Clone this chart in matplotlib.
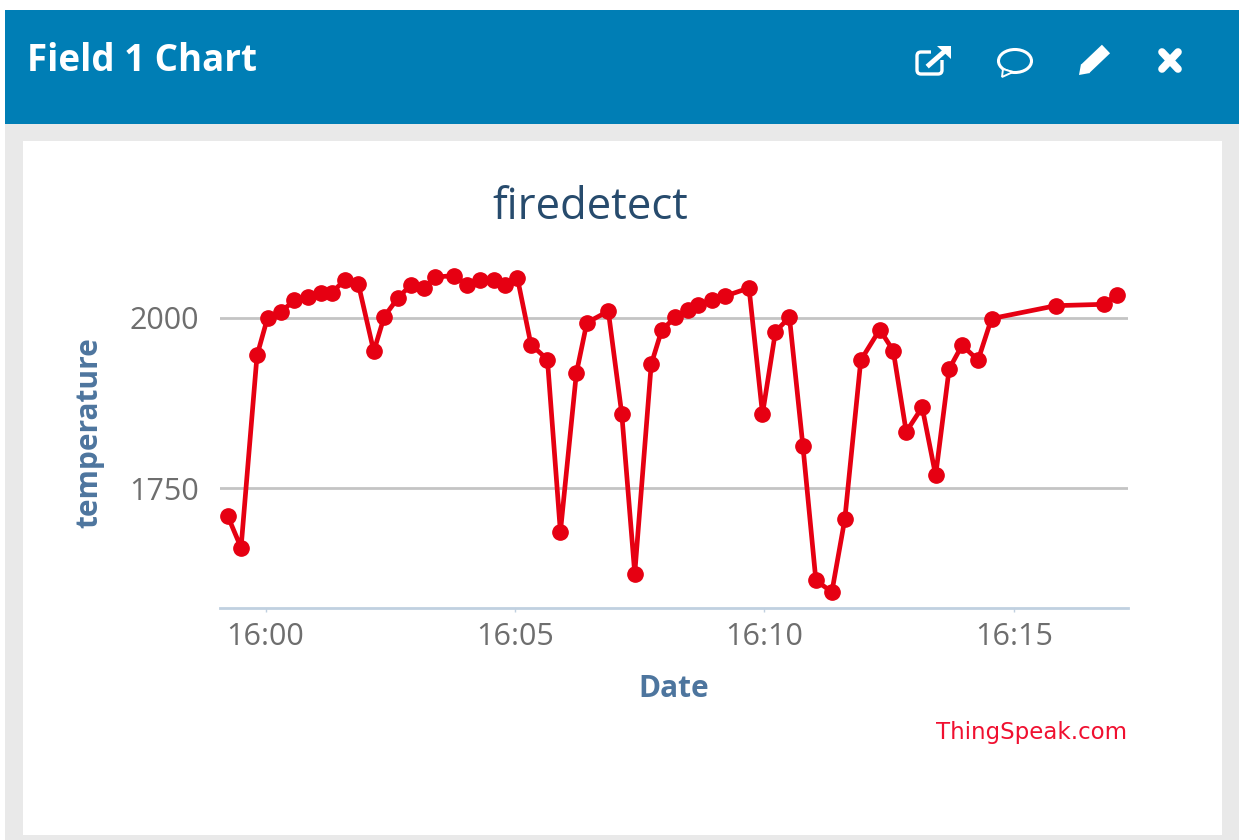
import matplotlib
matplotlib.use("Agg")
import matplotlib.pyplot as plt
from matplotlib.patches import Rectangle, FancyBboxPatch, Ellipse, Polygon
from matplotlib.lines import Line2D

minutes = [-0.76,-0.49,-0.17,0.04,0.31,0.58,0.85,1.11,1.33,1.59,1.86,2.17,2.38,2.65,2.92,3.18,3.40,3.77,
           4.04,4.30,4.57,4.79,5.05,5.32,5.65,5.91,6.23,6.44,6.87,7.14,7.40,7.73,7.94,8.21,8.47,8.67,8.94,
           9.21,9.69,9.96,10.22,10.50,10.77,11.03,11.35,11.61,11.93,12.31,12.58,12.84,13.16,13.43,13.70,
           13.96,14.28,14.55,15.84,16.80,17.06]
temperature = [1710,1663,1945,2000,2009,2026,2030,2037,2037,2056,2050,1951,2002,2029,2049,2044,2060,2062,
               2049,2056,2056,2049,2058,1961,1939,1686,1919,1993,2010,1859,1625,1932,1982,2001,2011,2019,2026,
               2032,2044,1859,1980,2001,1812,1615,1598,1705,1938,1983,1952,1833,1869,1769,1925,1960,1938,
               1999,2018,2020,2034]
xtick_values = [0, 5, 10, 15]
xtick_labels = ["16:00", "16:05", "16:10", "16:15"]
ytick_values = [1750, 2000]
ytick_labels = ["1750", "2000"]

W, H = 1239, 840
TEXT = "Open Sans"
fig = plt.figure(figsize=(W/100, H/100), dpi=100, facecolor="#e9e9e9")

# page frame in pixel coordinates
bg = fig.add_axes([0, 0, 1, 1], zorder=0)
bg.set_xlim(0, W); bg.set_ylim(H, 0); bg.axis("off")
bg.add_patch(Rectangle((0, 0), W, 10, fc="white", ec="none"))
bg.add_patch(Rectangle((0, 0), 5, H, fc="white", ec="none"))
bg.add_patch(Rectangle((5, 10), W-5, 114, fc="#007eb5", ec="none"))
bg.add_patch(Rectangle((23, 141), 1199, 694, fc="white", ec="none"))
bg.text(27, 61, "Field 1 Chart", color="white", fontsize=26.5, fontweight="bold",
        family=TEXT, va="center", ha="left")

# header icons
w = "white"
bg.add_patch(FancyBboxPatch((917, 52), 25, 22, boxstyle="round,pad=0,rounding_size=4", fc="none", ec=w, lw=2.4))
bg.add_patch(Rectangle((931, 46), 22, 14, fc="#007eb5", ec="none"))
bg.add_line(Line2D([929, 946], [65, 50], color=w, lw=3.5))
bg.add_patch(Polygon([[937, 46], [951, 46], [951, 59]], fc=w, ec="none"))
bg.add_patch(Ellipse((1015, 61), 33, 23, fc="none", ec=w, lw=2.2))
bg.add_patch(Polygon([[1003, 69], [1013, 72], [1002, 77]], fc="#007eb5", ec=w, lw=1.4))
bg.add_line(Line2D([1085, 1106], [69, 49], color=w, lw=8.5, solid_capstyle="butt"))
bg.add_patch(Polygon([[1079, 75], [1081, 64], [1090, 73]], fc=w, ec="none"))
bg.add_line(Line2D([1162, 1178], [52, 69], color=w, lw=5.5, solid_capstyle="round"))
bg.add_line(Line2D([1178, 1162], [52, 69], color=w, lw=5.5, solid_capstyle="round"))

# chart axes: left 220, right 1128, bottom 608, top 260
ax = fig.add_axes([220/W, 1-608/H, (1128-220)/W, (608-260)/H], zorder=1)
ax.patch.set_alpha(0)
ax.set_xlim(-0.912, 17.285)
ax.set_ylim(1574.5, 2085)
for s in ["top", "left", "right"]:
    ax.spines[s].set_visible(False)
ax.spines["bottom"].set_color("#c0d0e0")
ax.spines["bottom"].set_linewidth(2)
ax.set_yticks(ytick_values, ytick_labels)
ax.set_xticks(xtick_values, xtick_labels)
ax.grid(axis="y", color="#c4c4c4", lw=2)
ax.set_axisbelow(True)
ax.tick_params(axis="y", length=0, pad=15, labelsize=22, labelcolor="#6e6e6e")
ax.tick_params(axis="x", length=3, width=1, color="#c0d0e0", pad=7, labelsize=22, labelcolor="#6e6e6e")
for t in ax.get_xticklabels() + ax.get_yticklabels():
    t.set_family(TEXT)
ax.plot(minutes, temperature, color="#e60012", lw=3.4, marker="o", ms=11, mfc="#e60012", mec="#e60012", zorder=3)

bg2 = fig.add_axes([0, 0, 1, 1], zorder=2)
bg2.set_xlim(0, W); bg2.set_ylim(H, 0); bg2.axis("off")
bg2.text(590, 208, "firedetect", color="#274b6d", fontsize=31.5, family=TEXT, ha="center", va="center")
bg2.text(89, 433, "temperature", color="#4d759e", fontsize=21.5, fontweight="bold", family=TEXT,
         rotation=90, ha="center", va="center")
bg2.text(674, 689, "Date", color="#4d759e", fontsize=21.5, fontweight="bold", family=TEXT, ha="center", va="center")
bg2.text(1127, 733, "ThingSpeak.com", color="#f01030", fontsize=16.5, family="DejaVu Sans", ha="right", va="center")

fig.savefig("out.png", dpi=100, facecolor=fig.get_facecolor())
